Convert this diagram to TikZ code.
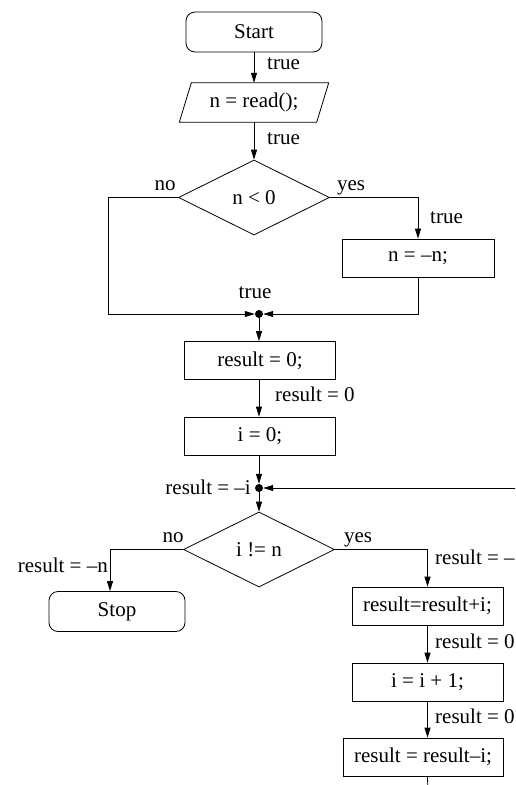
\documentclass[tikz,border=0pt]{standalone}
\usepackage{fontspec}
\setmainfont{Liberation Serif}
\usetikzlibrary{arrows.meta,shapes.geometric,calc}

\tikzset{
  flow/.style={line width=0.8pt},
  arr/.style={flow, -{Triangle[length=10pt,width=6pt]}},
  stmt/.style={draw, line width=0.8pt, rectangle, minimum height=38pt, inner sep=0pt},
  term/.style={draw, line width=0.8pt, rectangle, rounded corners=9pt, minimum width=136pt, minimum height=40pt, inner sep=0pt},
  test/.style={draw, line width=0.8pt, diamond, aspect=2, minimum width=151pt, minimum height=75pt, inner sep=0pt},
  joindot/.style={circle, fill, inner sep=0pt, minimum size=8pt},
  lbl/.style={inner sep=0pt, text height=1.45ex, text depth=0.3ex},
}

\begin{document}
\begin{tikzpicture}[x=1pt, y=-1pt, font=\fontsize{21}{24}\selectfont]
\useasboundingbox (0,0) rectangle (515,785);
\clip (0,0) rectangle (515,785);

% --- upper part: read n and take its absolute value
\node[term] (start) at (254,32) {Start};
\node[inner sep=0pt, minimum width=137pt, minimum height=39pt] (read) at (254,102.5) {n = read();};
\draw[flow] ($(read.south west)+(-6,0)$) -- ($(read.south east)+(-6,0)$)
            -- ($(read.north east)+(6,0)$) -- ($(read.north west)+(6,0)$) -- cycle;
\node[test] (neg0) at (254,197.5) {n < 0};
\node[stmt, minimum width=152pt] (negate) at (418,258) {n = –n;};
\node[joindot] (j1) at (259,314) {};
\coordinate (leftx) at (108,0);

\draw[arr] (start) -- (read);
\draw[arr] (read) -- (neg0);
\draw[arr] (neg0.east) -| (negate.north);
\draw[arr] (negate.south) |- (j1);
\draw[arr] (neg0.west) -- (neg0.west -| leftx) |- (j1);

\node[lbl, anchor=west] (lt1) at (267,67) {true};
\node[lbl, anchor=west] (lt2) at (267,142) {true};
\node[lbl] (lno1) at (165,188) {no};
\node[lbl] (lyes1) at (351,188) {yes};
\node[lbl, anchor=west] (lt3) at (430,221) {true};
\node[lbl] (lt4) at (255,296) {true};

% --- initialisation
\node[stmt, minimum width=151pt] (res0) at (260,360.5) {result = 0;};
\node[stmt, minimum width=151pt] (i0) at (260,436) {i = 0;};
\node[joindot] (j2) at (259,488) {};
\coordinate (loopin) at (520,488);

\draw[arr] (j1) -- (j1 |- res0.north);
\draw[arr] (j1 |- res0.south) -- (j1 |- i0.north);
\draw[arr] (j1 |- i0.south) -- (j2);
\draw[arr] (loopin) -- (j2);

\node[lbl, anchor=west] (lr0) at (275,399) {result = 0};
\node[lbl, anchor=east] (lri) at (251,492) {result = –i};

% --- loop test and body
\node[test] (cond) at (259,549.5) {i != n};
\node[term] (stop) at (117,611.5) {Stop};
\coordinate (nobend) at (110,549.5);
\node[stmt, minimum width=151pt] (add) at (427.5,606) {result=result+i;};
\node[stmt, minimum width=151pt] (inc) at (427.5,682) {i = i + 1;};
\node[stmt, minimum width=160pt] (sub) at (423,757) {result = result–i;};
\coordinate (down) at (428,795);

\draw[arr] (j2) -- (j2 |- cond.north);
\draw[arr] (cond.west) -- (nobend) -- (nobend |- stop.north);
\draw[arr] (cond.east) -| (add.north);
\draw[arr] (add.south) -- (inc.north);
\draw[arr] (inc.south) -- (inc.south |- sub.north);
\draw[flow] (inc.south |- sub.south) -- (down);

\node[lbl] (lno2) at (173,540) {no};
\node[lbl] (lyes2) at (358,540) {yes};
\node[lbl, anchor=east] (lrn) at (108,570) {result = –n};
\node[lbl, anchor=west] (lrm) at (435,562) {result = –};
\node[lbl, anchor=west] (lr1) at (435,646) {result = 0};
\node[lbl, anchor=west] (lr2) at (435,721) {result = 0};
\end{tikzpicture}
\end{document}
